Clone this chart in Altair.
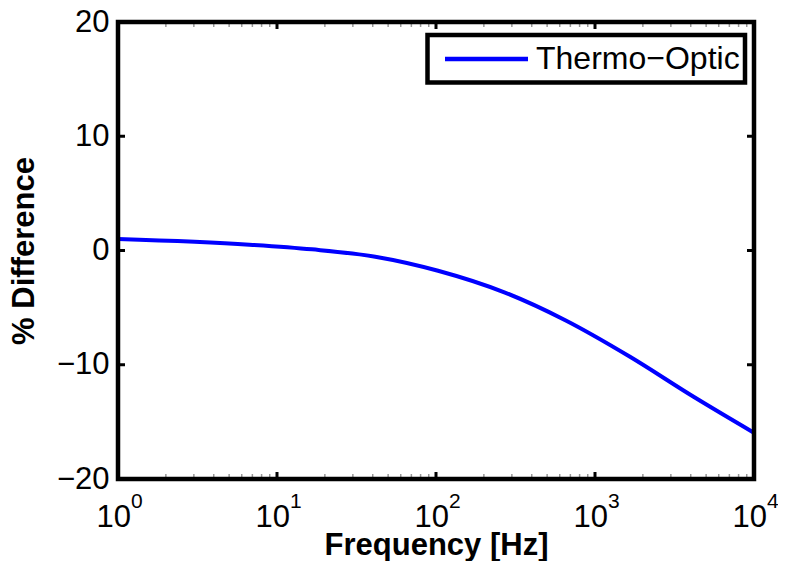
import altair as alt
import pandas as pd

# Data
freq = [1, 6.7, 16.6, 41.5, 103, 269, 646, 1660, 4170, 10000]
pct = [1.0, 0.51, 0.10, -0.54, -1.77, -3.66, -6.08, -9.30, -12.80, -15.95]

x_major = [1, 10, 100, 1000, 10000]
x_exp = ["0", "1", "2", "3", "4"]
x_minor = [m * d for d in [1, 10, 100, 1000] for m in range(2, 10)]
y_ticks = [-20, -10, 0, 10, 20]
legend_labels = ["Thermo\u2212Optic"]

W, H = 636, 457
FONT = "Liberation Sans"

df = pd.DataFrame({"freq": freq, "pct": pct})
xmaj = pd.DataFrame({"freq": x_major, "base": ["10"] * len(x_major), "exp": x_exp})
xmin = pd.DataFrame({"freq": x_minor})
ydf = pd.DataFrame({"v": y_ticks})
one = pd.DataFrame({"label": legend_labels})

xscale = alt.Scale(type="log", domain=[1, 10000])
yscale = alt.Scale(domain=[-20, 20])

xaxis = alt.Axis(labels=False, ticks=False, domain=False, grid=False,
                 title="Frequency [Hz]", titleFont=FONT, titleFontSize=31,
                 titleFontWeight="bold", titleColor="black",
                 titleY=75, titleBaseline="alphabetic")
yaxis = alt.Axis(values=y_ticks, ticks=False, domain=False, grid=False,
                 labelFont=FONT, labelFontSize=31, labelColor="black",
                 labelPadding=9,
                 title="% Difference", titleFont=FONT, titleFontSize=31,
                 titleFontWeight="bold", titleColor="black",
                 titleAngle=270, titleX=-85, titleY=H / 2,
                 titleBaseline="alphabetic")


def X(field):
    return alt.X(field, type="quantitative", scale=xscale, axis=xaxis, title="Frequency [Hz]")


def Y(field):
    return alt.Y(field, type="quantitative", scale=yscale, axis=yaxis, title="% Difference")


line = alt.Chart(df).mark_line(color="#0000ff", strokeWidth=4, interpolate="monotone").encode(
    x=X("freq"), y=Y("pct"))

lab_base = alt.Chart(xmaj).mark_text(align="right", dx=13, baseline="alphabetic",
                                      font=FONT, fontSize=31, color="black").encode(
    x=X("freq"), y=alt.value(505), text="base:N")
lab_exp = alt.Chart(xmaj).mark_text(align="left", dx=13, baseline="alphabetic",
                                     font=FONT, fontSize=21, color="black").encode(
    x=X("freq"), y=alt.value(486), text="exp:N")

tk_b = alt.Chart(xmaj).mark_rule(color="black", strokeWidth=3).encode(
    x=X("freq"), y=alt.value(H), y2=alt.value(H - 7))
tk_t = alt.Chart(xmaj).mark_rule(color="black", strokeWidth=3).encode(
    x=X("freq"), y=alt.value(0), y2=alt.value(7))
mn_b = alt.Chart(xmin).mark_rule(color="#999999", strokeWidth=1.5).encode(
    x=X("freq"), y=alt.value(H), y2=alt.value(H - 5))
mn_t = alt.Chart(xmin).mark_rule(color="#999999", strokeWidth=1.5).encode(
    x=X("freq"), y=alt.value(0), y2=alt.value(5))
tk_l = alt.Chart(ydf).mark_rule(color="black", strokeWidth=3).encode(
    y=Y("v"), x=alt.value(0), x2=alt.value(7))
tk_r = alt.Chart(ydf).mark_rule(color="black", strokeWidth=3).encode(
    y=Y("v"), x=alt.value(W), x2=alt.value(W - 7))

frame = alt.Chart(one).mark_rect(filled=False, stroke="black", strokeWidth=4.5).encode(
    x=alt.value(0), x2=alt.value(W), y=alt.value(0), y2=alt.value(H))

leg_box = alt.Chart(one).mark_rect(fill="white", stroke="black", strokeWidth=4.5).encode(
    x=alt.value(309.5), x2=alt.value(627), y=alt.value(13), y2=alt.value(60.5))
leg_line = alt.Chart(one).mark_rule(color="#0000ff", strokeWidth=4.5).encode(
    x=alt.value(327), x2=alt.value(410), y=alt.value(37))
leg_text = alt.Chart(one).mark_text(align="left", baseline="alphabetic", font=FONT,
                                     fontSize=32, color="black").encode(
    x=alt.value(418), y=alt.value(47), text="label:N")

chart = alt.layer(
    line, mn_b, mn_t, tk_b, tk_t, tk_l, tk_r, frame, lab_base, lab_exp,
    leg_box, leg_line, leg_text
).properties(
    width=W, height=H,
    autosize=alt.AutoSizeParams(type="none"),
    padding={"left": 110, "top": 14, "right": 24, "bottom": 82},
    background="white",
).configure_view(strokeWidth=0)

chart.save("out.html", embed_options={"renderer": "svg", "actions": False})
